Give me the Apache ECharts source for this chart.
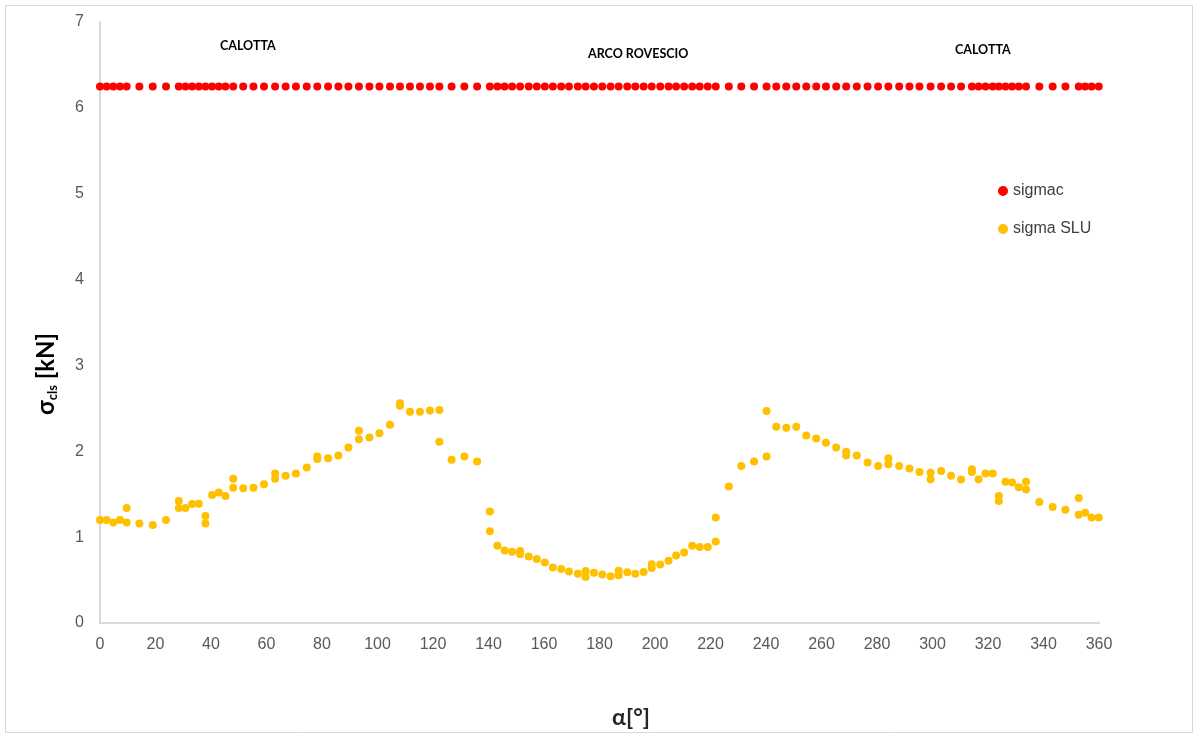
<!DOCTYPE html>
<html>
<head>
<meta charset="utf-8">
<title>sigma SLU / sigmac</title>
<script src="https://cdn.jsdelivr.net/npm/echarts@6/dist/echarts.min.js"></script>
<style>
  html, body { margin: 0; padding: 0; background: #ffffff; }
  #chart { width: 1198px; height: 738px; }
</style>
</head>
<body>
<div id="chart"></div>
<script>
// Angle along the lining (degrees) and allowable concrete stress
var alphaC = [0, 2.4, 4.8, 7.2, 9.6, 14.2, 19.0, 23.8, 28.4, 30.8, 33.2, 35.6, 38.0, 40.4, 42.8, 45.2, 48.0,
  51.6, 55.3, 59.1, 63.1, 66.9, 70.6, 74.5, 78.3, 82.2, 85.9, 89.5, 93.3, 97.1, 100.7, 104.5, 108.1, 111.7,
  115.3, 118.9, 122.3, 126.7, 131.3, 135.9, 140.5, 143.2, 145.8, 148.5, 151.4, 154.5, 157.4, 160.3, 163.2,
  166.2, 169.0, 172.2, 175.0, 178.0, 181.0, 184.0, 186.9, 190.0, 192.9, 195.9, 198.8, 201.9, 204.9, 207.6,
  210.5, 213.4, 216.1, 219.0, 221.9, 226.6, 231.1, 235.7, 240.2, 243.7, 247.3, 250.9, 254.5, 258.1, 261.6,
  265.3, 268.9, 272.7, 276.6, 280.4, 284.1, 288.0, 291.7, 295.3, 299.3, 303.1, 306.7, 310.3, 314.2, 316.6,
  319.1, 321.7, 323.9, 326.3, 328.7, 331.1, 333.7, 338.5, 343.3, 347.9, 352.7, 355.0, 357.3, 359.9];
var sigmac = [6.25, 6.25, 6.25, 6.25, 6.25, 6.25, 6.25, 6.25, 6.25, 6.25, 6.25, 6.25, 6.25, 6.25, 6.25, 6.25, 6.25,
  6.25, 6.25, 6.25, 6.25, 6.25, 6.25, 6.25, 6.25, 6.25, 6.25, 6.25, 6.25, 6.25, 6.25, 6.25, 6.25, 6.25,
  6.25, 6.25, 6.25, 6.25, 6.25, 6.25, 6.25, 6.25, 6.25, 6.25, 6.25, 6.25, 6.25, 6.25, 6.25,
  6.25, 6.25, 6.25, 6.25, 6.25, 6.25, 6.25, 6.25, 6.25, 6.25, 6.25, 6.25, 6.25, 6.25, 6.25,
  6.25, 6.25, 6.25, 6.25, 6.25, 6.25, 6.25, 6.25, 6.25, 6.25, 6.25, 6.25, 6.25, 6.25, 6.25,
  6.25, 6.25, 6.25, 6.25, 6.25, 6.25, 6.25, 6.25, 6.25, 6.25, 6.25, 6.25, 6.25, 6.25, 6.25,
  6.25, 6.25, 6.25, 6.25, 6.25, 6.25, 6.25, 6.25, 6.25, 6.25, 6.25, 6.25, 6.25, 6.25];

// Ultimate-limit-state stress at each section (some angles carry two sections)
var alphaSLU = [0, 2.4, 4.8, 7.2, 9.6, 9.6, 14.2, 19.0, 23.8, 28.4, 28.4, 30.8, 33.2, 35.6, 38.0, 38.0, 40.4,
  42.8, 45.2, 48.0, 48.0, 51.6, 55.3, 59.1, 63.1, 63.1, 66.9, 70.6, 74.5, 78.3, 78.3, 82.2, 85.9, 89.5, 93.3,
  93.3, 97.1, 100.7, 104.5, 108.1, 108.1, 111.7, 115.3, 118.9, 122.3, 122.3, 126.7, 131.3, 135.9, 140.5,
  140.5, 143.2, 145.8, 148.5, 151.4, 151.4, 154.5, 157.4, 160.3, 163.2, 166.2, 169.0, 172.2, 175.0, 175.0,
  178.0, 181.0, 184.0, 186.9, 186.9, 190.0, 192.9, 195.9, 198.8, 198.8, 201.9, 204.9, 207.6, 210.5, 213.4,
  216.1, 219.0, 221.9, 221.9, 226.6, 231.1, 235.7, 240.2, 240.2, 243.7, 247.3, 250.9, 254.5, 258.1, 261.6,
  265.3, 268.9, 268.9, 272.7, 276.6, 280.4, 284.1, 284.1, 288.0, 291.7, 295.3, 299.3, 299.3, 303.1, 306.7,
  310.3, 314.2, 314.2, 316.6, 319.1, 321.7, 323.9, 323.9, 326.3, 328.7, 331.1, 333.7, 333.7, 338.5, 343.3,
  347.9, 352.7, 352.7, 355.0, 357.3, 359.9];
var sigmaSLU = [1.20, 1.20, 1.17, 1.20, 1.17, 1.34, 1.16, 1.14, 1.20, 1.42, 1.34, 1.34, 1.385, 1.39, 1.245, 1.16, 1.49,
  1.52, 1.48, 1.68, 1.575, 1.57, 1.575, 1.615, 1.74, 1.68, 1.715, 1.74, 1.81, 1.94, 1.91, 1.92, 1.95, 2.045, 2.24,
  2.14, 2.16, 2.21, 2.31, 2.56, 2.53, 2.46, 2.46, 2.475, 2.48, 2.11, 1.90, 1.94, 1.88, 1.30,
  1.07, 0.90, 0.845, 0.83, 0.84, 0.80, 0.775, 0.745, 0.705, 0.645, 0.63, 0.60, 0.575, 0.605, 0.535,
  0.585, 0.565, 0.545, 0.61, 0.555, 0.59, 0.575, 0.595, 0.685, 0.64, 0.68, 0.725, 0.785, 0.82, 0.90,
  0.885, 0.885, 0.95, 1.23, 1.59, 1.83, 1.88, 1.94, 2.47, 2.285, 2.275, 2.285, 2.185, 2.15, 2.10,
  2.045, 1.995, 1.95, 1.95, 1.87, 1.83, 1.92, 1.85, 1.83, 1.80, 1.76, 1.75, 1.675, 1.77, 1.715,
  1.67, 1.79, 1.76, 1.675, 1.74, 1.74, 1.48, 1.42, 1.645, 1.635, 1.58, 1.645, 1.555, 1.41, 1.35,
  1.32, 1.455, 1.26, 1.285, 1.23, 1.23];

// Axis ticks
var xTicks = { min: 0, max: 360, step: 20 };
var yTicks = { min: 0, max: 7, step: 1 };

// Lining sections named above the plot
var sections = [
  { text: 'CALOTTA', left: 220, top: 39 },
  { text: 'ARCO ROVESCIO', left: 588, top: 47 },
  { text: 'CALOTTA', left: 955, top: 43 }
];

var boldFont = 'Lato, "Liberation Sans", sans-serif';
var plainFont = '"Liberation Sans", Arial, sans-serif';

function zip(xs, ys) {
  return xs.map(function (x, i) { return [x, ys[i]]; });
}

var chart = echarts.init(document.getElementById('chart'), null, { renderer: 'canvas' });

var graphics = [{
  type: 'rect',
  shape: { x: 5.5, y: 5.5, width: 1187, height: 727 },
  style: { fill: null, stroke: '#d9d9d9', lineWidth: 1 },
  silent: true
}];
sections.forEach(function (s) {
  graphics.push({
    type: 'text',
    left: s.left,
    top: s.top,
    style: {
      text: s.text,
      font: 'bold 12.5px ' + boldFont,
      fill: '#000000'
    }
  });
});

// Axis titles
graphics.push({
  type: 'text',
  x: 46,
  y: 374,
  rotation: Math.PI / 2,
  style: {
    text: '{s|σ}{sub|cls}{s| [kN]}',
    align: 'center',
    verticalAlign: 'middle',
    rich: {
      s: { fontFamily: boldFont, fontWeight: 'bold', fontSize: 24, fill: '#000000' },
      sub: { fontFamily: boldFont, fontWeight: 'bold', fontSize: 13, fill: '#000000', padding: [13, 0, 0, 0] }
    }
  }
});
graphics.push({
  type: 'text',
  x: 631,
  y: 718,
  style: {
    text: 'α[°]',
    align: 'center',
    verticalAlign: 'middle',
    font: 'bold 23px ' + boldFont,
    fill: '#262626'
  }
});

chart.setOption({
  animation: false,
  backgroundColor: '#ffffff',
  grid: { left: 100, right: 99, top: 22, bottom: 115 },
  legend: {
    orient: 'vertical',
    left: 993,
    top: 178,
    itemGap: 22,
    itemWidth: 10,
    itemHeight: 10,
    icon: 'circle',
    textStyle: { fontFamily: plainFont, fontSize: 16, color: '#404040' },
    data: ['sigmac', 'sigma SLU']
  },
  xAxis: {
    type: 'value',
    min: xTicks.min,
    max: xTicks.max,
    interval: xTicks.step,
    axisLine: { show: true, lineStyle: { color: '#d9d9d9', width: 2 } },
    axisTick: { show: false },
    splitLine: { show: false },
    axisLabel: { fontFamily: plainFont, fontSize: 16, color: '#595959', margin: 14 }
  },
  yAxis: {
    type: 'value',
    min: yTicks.min,
    max: yTicks.max,
    interval: yTicks.step,
    axisLine: { show: true, lineStyle: { color: '#d9d9d9', width: 2 } },
    axisTick: { show: false },
    splitLine: { show: false },
    axisLabel: { fontFamily: plainFont, fontSize: 16, color: '#595959', margin: 16 }
  },
  graphic: graphics,
  series: [
    {
      name: 'sigmac',
      type: 'scatter',
      symbol: 'circle',
      symbolSize: 8,
      itemStyle: { color: '#ff0000', opacity: 1 },
      data: zip(alphaC, sigmac)
    },
    {
      name: 'sigma SLU',
      type: 'scatter',
      symbol: 'circle',
      symbolSize: 8,
      itemStyle: { color: '#ffc000', opacity: 1 },
      data: zip(alphaSLU, sigmaSLU)
    }
  ]
});
</script>
</body>
</html>
